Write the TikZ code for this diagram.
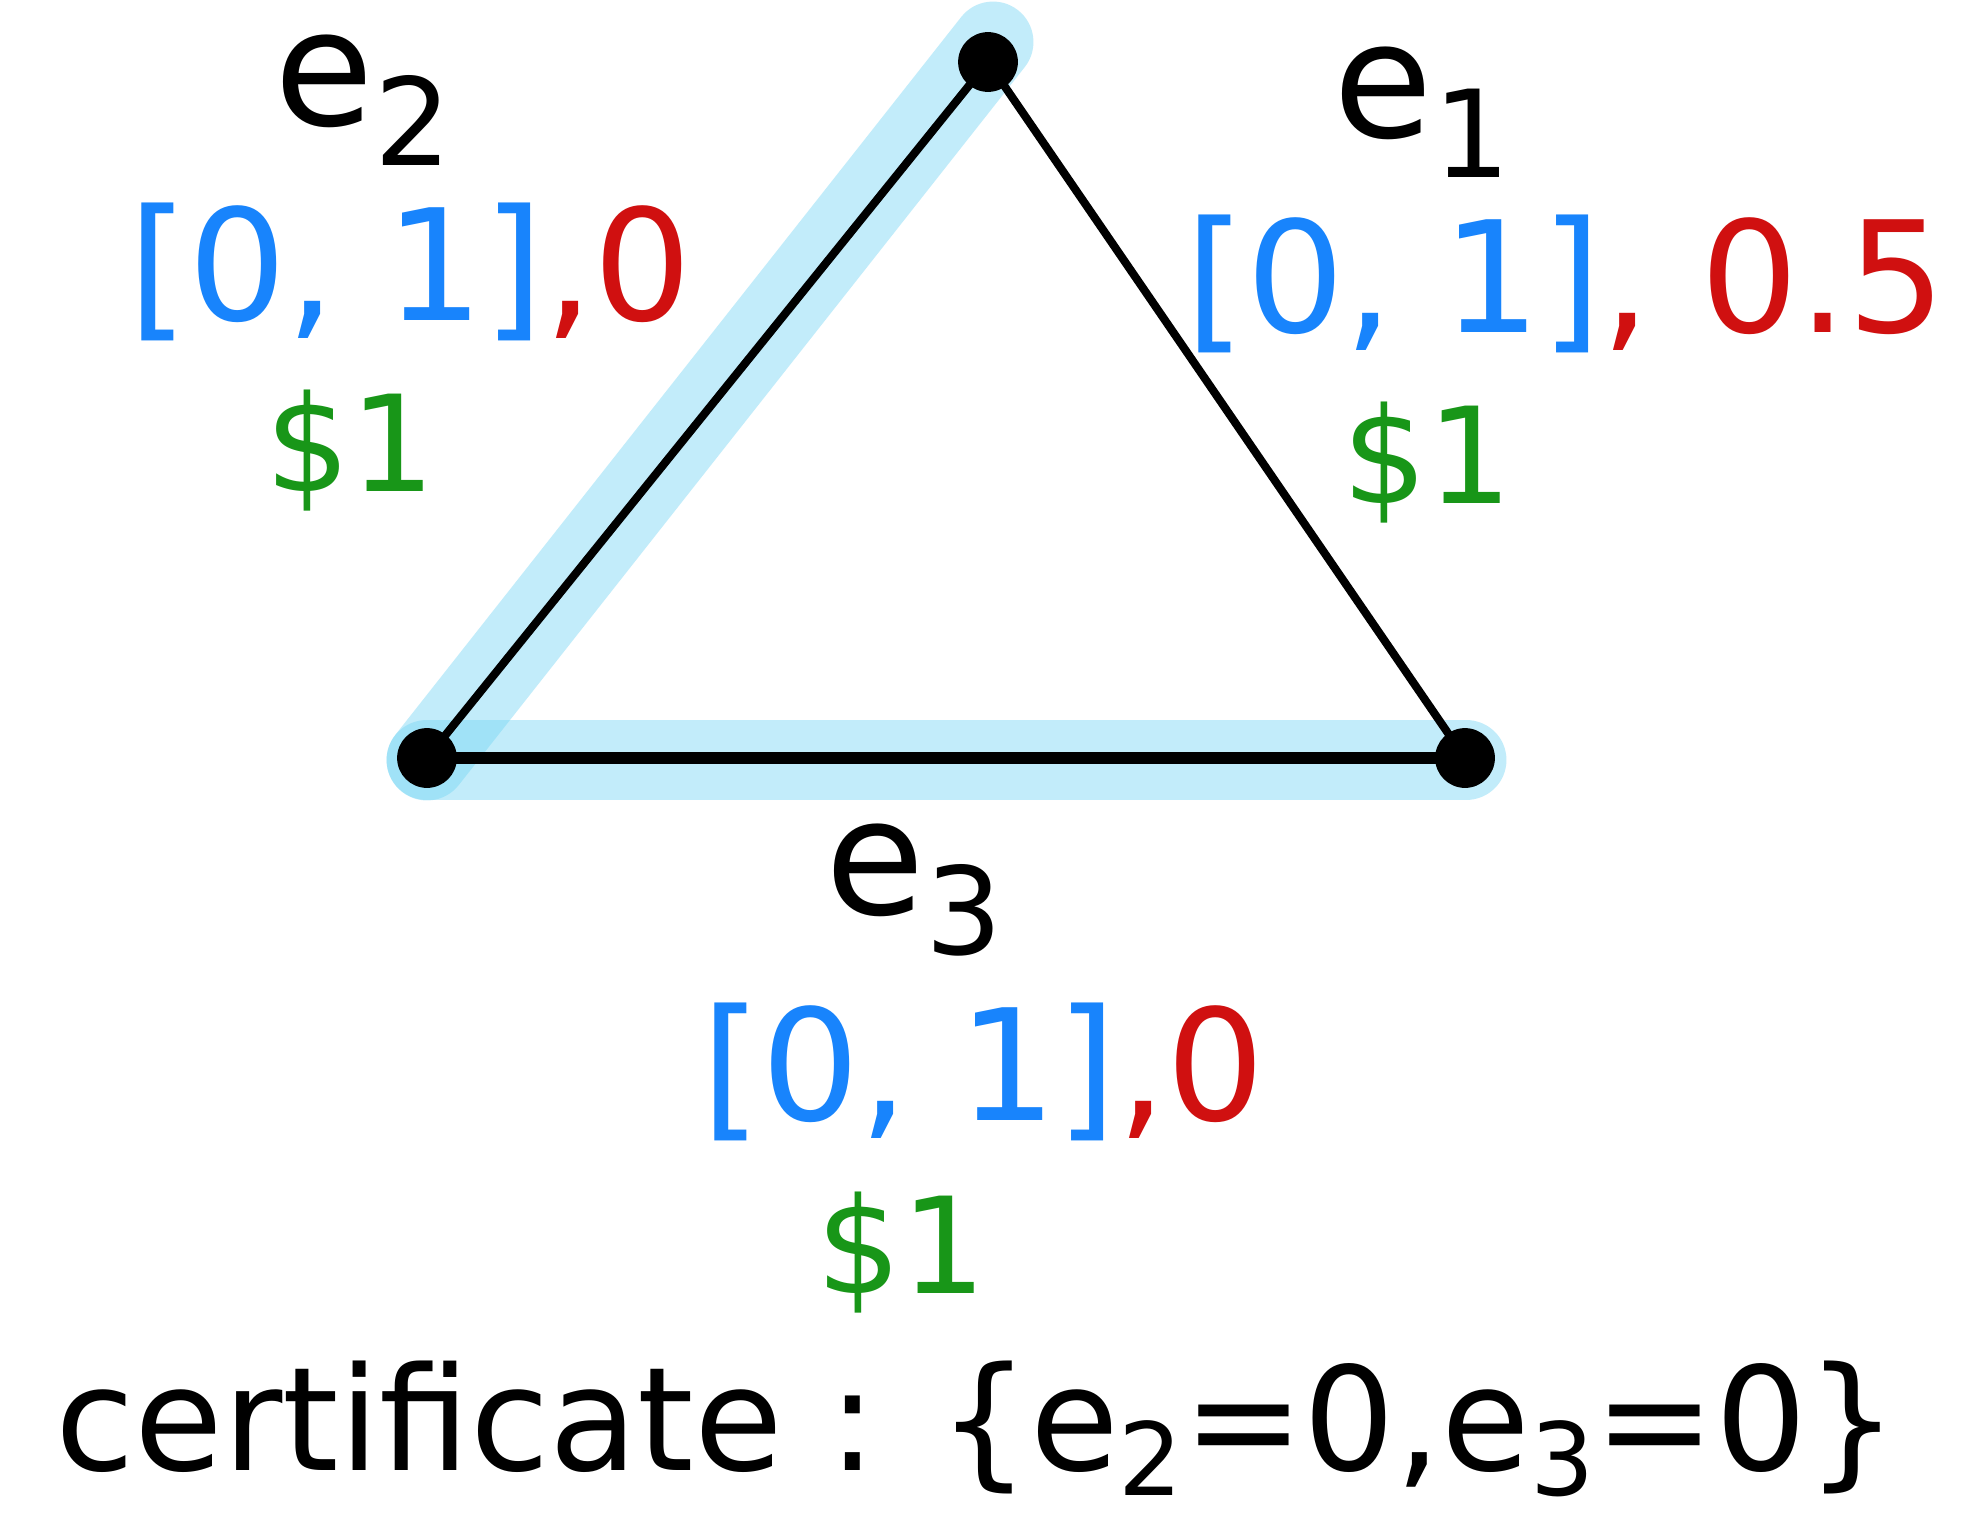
\documentclass[tikz,border=0pt]{standalone}
\usepackage{fontspec}
\setmainfont{DejaVu Sans}
\definecolor{hlblue}{RGB}{120,215,245}
\definecolor{ivblue}{RGB}{24,132,252}
\definecolor{ivred}{RGB}{208,16,16}
\definecolor{ivgreen}{RGB}{24,150,24}
\newcommand{\esub}[1]{e\raisebox{-0.25em}{\scalebox{0.75}{#1}}}
\newcommand{\csub}[1]{e\raisebox{-0.18em}{\scalebox{0.7}{#1}}}
\tikzset{
  edgeline/.style={line width=2.3pt, black},
  hl/.style={line width=23pt, hlblue, opacity=0.45, line cap=round},
  vdot/.style={circle, fill=black, inner sep=0pt, minimum size=17pt},
  elabel/.style={font=\fontsize{46}{50}\selectfont, inner sep=0pt},
  ilabel/.style={font=\fontsize{44}{50}\selectfont, inner sep=0pt},
  clabel/.style={font=\fontsize{38}{46}\selectfont, text=ivgreen, inner sep=0pt},
  certlabel/.style={font=\fontsize{41}{48}\selectfont, inner sep=0pt, anchor=base}
}
\begin{document}
\begin{tikzpicture}[x=0.01cm, y=-0.01cm]
\useasboundingbox (0,0) rectangle (1964,1515);
\fill[white] (0,0) rectangle (1964,1515);
\coordinate (T) at (988,62);
\coordinate (L) at (427,758);
\coordinate (R) at (1465,758);
\coordinate (HT) at (993,42);
\coordinate (HL) at (427,760);
\coordinate (HR) at (1466,760);
% highlighted edges
\draw[hl] (HT) -- (HL);
\draw[hl] (HL) -- (HR);
% edges
\draw[edgeline] (T) -- (R);
\draw[edgeline] (T) -- (L);
\draw[edgeline, line width=3.4pt] (L) -- (R);
% vertices
\node[vdot] (vt) at (T) {};
\node[vdot] (vl) at (L) {};
\node[vdot] (vr) at (R) {};
% labels e2
\node[elabel] (e2) at (363,100) {\esub{2}};
\node[ilabel] (i2) at (410,272) {\textcolor{ivblue}{[0, 1]}\textcolor{ivred}{,0}};
\node[clabel] (c2) at (351,451) {\$1};
% labels e1
\node[elabel] (e1) at (1422,112) {\esub{1}};
\node[ilabel] (i1) at (1566,284) {\textcolor{ivblue}{[0, 1]}\textcolor{ivred}{, 0.5}};
\node[clabel] (c1) at (1428,463) {\$1};
% labels e3
\node[elabel] (e3) at (914,890) {\esub{3}};
\node[ilabel] (i3) at (983,1072) {\textcolor{ivblue}{[0, 1]}\textcolor{ivred}{,0}};
\node[clabel] (c3) at (902,1253) {\$1};
% certificate
\node[certlabel] (cert) at (977,1470) {certificate : \{\csub{2}=0,\csub{3}=0\}};
\end{tikzpicture}
\end{document}
